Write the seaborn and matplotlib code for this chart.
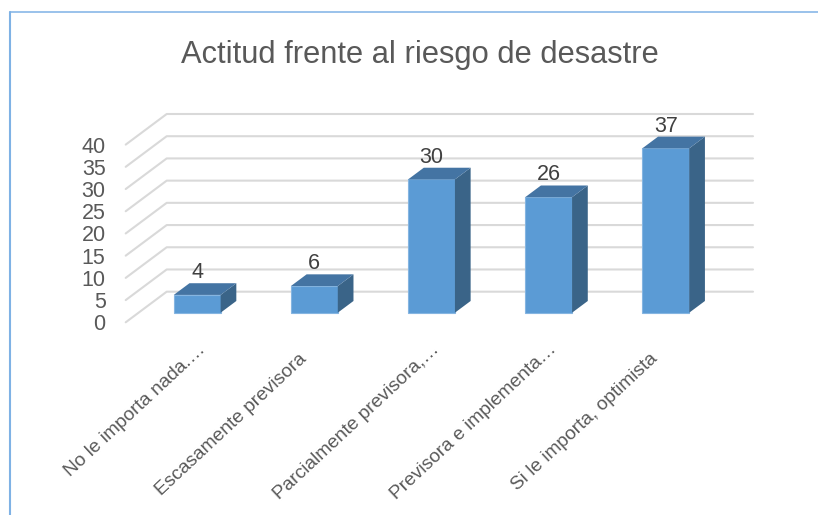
"""Actitud frente al riesgo de desastre: fake 3D column chart."""

import matplotlib

matplotlib.use("Agg")
import matplotlib.pyplot as plt
import seaborn as sns
from matplotlib.lines import Line2D
from matplotlib.patches import Polygon
from matplotlib.transforms import ScaledTranslation

CATEGORIES = [
    "No le importa nada.…",
    "Escasamente previsora",
    "Parcialmente previsora,…",
    "Previsora e implementa…",
    "Si le importa, optimista",
]
VALUES = [4, 6, 30, 26, 37]
Y_TICKS = [0, 5, 10, 15, 20, 25, 30, 35, 40]
TITLE = "Actitud frente al riesgo de desastre"

WIDTH, HEIGHT = 818, 515
PX_PER_CAT = 117.15
PX_PER_UNIT = 4.44


def main() -> None:
    sns.set_theme(style="white")
    plt.rcParams["font.family"] = ["Liberation Sans", "DejaVu Sans"]

    fig = plt.figure(figsize=(WIDTH / 100, HEIGHT / 100), dpi=100)

    # axes box runs from the wall's front-bottom corner to its back-top corner
    left, right, top, bottom = 125.7, 753.0, 114.0, 322.3
    ax = fig.add_axes(
        [left / WIDTH, 1 - bottom / HEIGHT, (right - left) / WIDTH, (bottom - top) / HEIGHT]
    )

    sns.barplot(
        x=list(range(len(CATEGORIES))),
        y=VALUES,
        width=0.4,
        color="#5B9BD5",
        saturation=1,
        native_scale=True,
        edgecolor="#85B5E1",
        linewidth=0.8,
        zorder=3,
        ax=ax,
    )

    # wall depth and bar depth, converted to data units
    wall_front_x, wall_front_y = -12.9 / PX_PER_CAT, -9.6 / PX_PER_UNIT
    wall_back_x, wall_back_y = 28.1 / PX_PER_CAT, 21.0 / PX_PER_UNIT
    bar_dx, bar_dy = 15.7 / PX_PER_CAT, 11.7 / PX_PER_UNIT

    x_start = (left - 197.2) / PX_PER_CAT
    x_end = (right - 197.2) / PX_PER_CAT
    ax.set_xlim(x_start, x_end)
    ax.set_ylim(wall_front_y, 40 + wall_back_y)

    for tick in Y_TICKS:
        ax.plot(
            [x_start, x_start + wall_back_x - wall_front_x, x_end],
            [tick + wall_front_y, tick + wall_back_y, tick + wall_back_y],
            color="#D9D9D9",
            linewidth=1.5,
            zorder=1,
            clip_on=False,
        )

    for bar, value in zip(ax.patches[: len(VALUES)], VALUES):
        x0 = bar.get_x()
        x1 = x0 + bar.get_width()
        ax.add_patch(
            Polygon(
                [(x1, 0), (x1 + bar_dx, bar_dy), (x1 + bar_dx, value + bar_dy), (x1, value)],
                facecolor="#3A6488",
                edgecolor="none",
                zorder=3,
            )
        )
        ax.add_patch(
            Polygon(
                [(x0, value), (x0 + bar_dx, value + bar_dy), (x1 + bar_dx, value + bar_dy), (x1, value)],
                facecolor="#4474A3",
                edgecolor="none",
                zorder=3,
            )
        )
        ax.annotate(
            str(value),
            xy=((x0 + x1) / 2, value + bar_dy),
            xytext=(0, 7.6),
            textcoords="offset points",
            ha="center",
            va="center",
            fontsize=15.5,
            color="#404040",
            zorder=4,
        )

    ax.set_yticks([tick + wall_front_y for tick in Y_TICKS], labels=Y_TICKS)
    ax.set_xticks(range(len(CATEGORIES)))
    ax.set_xticklabels(CATEGORIES, rotation=43, ha="right", rotation_mode="anchor")
    ax.tick_params(axis="y", length=0, pad=14.5, labelsize=15.5, labelcolor="#595959")
    ax.tick_params(axis="x", length=0, pad=13.5, labelsize=13.8, labelcolor="#595959")
    ax.set_xlabel("")
    ax.set_ylabel("")
    sns.despine(ax=ax, left=True, bottom=True)

    # labels that were not truncated sit further down and to the left
    shift = ScaledTranslation(-16 / 100, -9 / 100, fig.dpi_scale_trans)
    for label in ax.get_xticklabels():
        if "…" not in label.get_text():
            label.set_transform(label.get_transform() + shift)

    fig.text(
        420 / WIDTH,
        1 - 55 / HEIGHT,
        TITLE,
        ha="center",
        va="center",
        fontsize=22.2,
        color="#595959",
    )

    # chart frame, cropped at the right and bottom of the screenshot
    frame = "#7FB2E5"
    fig.add_artist(
        Line2D([9.5 / WIDTH, 9.5 / WIDTH], [0, 1 - 11.7 / HEIGHT], color=frame, linewidth=1.5)
    )
    fig.add_artist(
        Line2D([9.5 / WIDTH, 1], [1 - 11.7 / HEIGHT, 1 - 11.7 / HEIGHT], color=frame, linewidth=1.1)
    )

    fig.savefig("out.png", dpi=100)
    plt.close(fig)


if __name__ == "__main__":
    main()
